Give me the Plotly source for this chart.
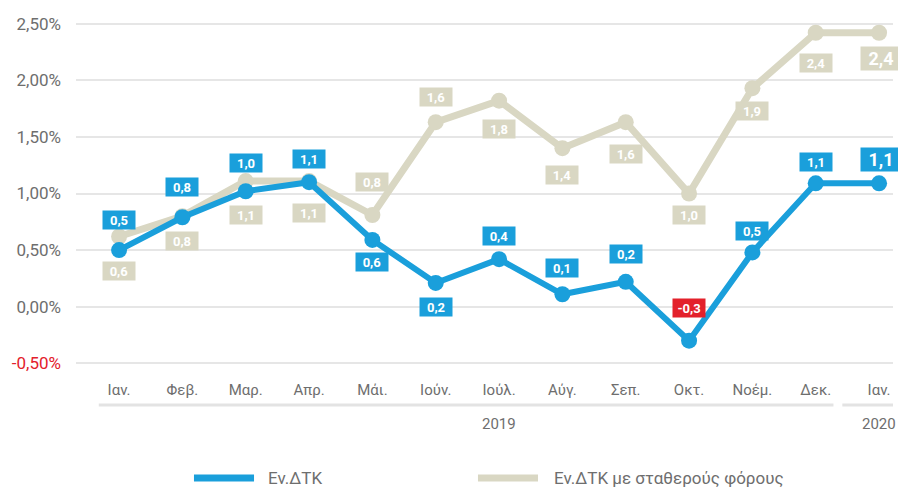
import plotly.graph_objects as go

months = ["Ιαν.", "Φεβ.", "Μαρ.", "Απρ.", "Μάι.", "Ιούν.", "Ιούλ.", "Αύγ.", "Σεπ.", "Οκτ.", "Νοέμ.", "Δεκ.", "Ιαν."]
years = ["2019", "2020"]
cpi = [0.50, 0.79, 1.02, 1.10, 0.59, 0.21, 0.42, 0.11, 0.22, -0.30, 0.48, 1.09, 1.09]
cpi_ct = [0.62, 0.80, 1.11, 1.11, 0.81, 1.63, 1.82, 1.40, 1.63, 1.00, 1.93, 2.42, 2.42]
series_names = ["Εν.ΔΤΚ", "Εν.ΔΤΚ με σταθερούς φόρους"]
y_ticks = [-0.5, 0.0, 0.5, 1.0, 1.5, 2.0, 2.5]

# label offsets in px (style only: negative = above the point)
cpi_off = [-30, -30, -28, -23, 22, 24, -23, -26, -28, -33, -21, -21, -24]
ct_off = [34, 25, 34, 32, -33, -25, 28, 27, 32, 21, 23, 30, 26]

BLUE = "#1a9fdb"
BEIGE = "#d9d7c3"
RED = "#e3212b"
GRAY = "#6e6e6e"
FONT = "Roboto"

x = list(range(len(months)))

fig = go.Figure()
fig.add_trace(go.Scatter(x=x, y=cpi_ct, mode="lines+markers", name=series_names[1],
                         line=dict(color=BEIGE, width=7), marker=dict(size=16, color=BEIGE),
                         hoverinfo="skip"))
fig.add_trace(go.Scatter(x=x, y=cpi, mode="lines+markers", name=series_names[0],
                         line=dict(color=BLUE, width=6), marker=dict(size=16, color=BLUE),
                         hoverinfo="skip"))


def fmt(v):
    return f"{v:.1f}".replace(".", ",")


annotations = []
n = len(x)
for series, offs, col in ((cpi_ct, ct_off, BEIGE), (cpi, cpi_off, BLUE)):
    for i, (v, o) in enumerate(zip(series, offs)):
        last = i == n - 1
        bg = RED if v < 0 else col
        annotations.append(dict(
            x=x[i], y=v, xref="x", yref="y", text=fmt(v), showarrow=False,
            yshift=-o, xshift=2 if last else 0, bgcolor=bg, borderpad=0, yanchor="middle",
            width=40 if last else 32, height=23 if last else 18,
            font=dict(family=FONT, size=18 if last else 13, color="white", weight="bold"),
        ))

# year labels
for xi, yr in ((6, years[0]), (12, years[1])):
    annotations.append(dict(x=xi, y=-0.157, xref="x", yref="paper", text=yr, showarrow=False,
                            yanchor="middle", font=dict(family=FONT, size=15, color=GRAY)))

# legend texts
annotations.append(dict(x=0.2326, y=-0.3105, xref="paper", yref="paper", text=series_names[0],
                        showarrow=False, xanchor="left", yanchor="middle",
                        font=dict(family=FONT, size=17, color=GRAY)))
annotations.append(dict(x=0.5826, y=-0.3105, xref="paper", yref="paper", text=series_names[1],
                        showarrow=False, xanchor="left", yanchor="middle",
                        font=dict(family=FONT, size=17, color=GRAY)))

shapes = [
    dict(type="line", xref="x", yref="paper", x0=-0.32, x1=11.28, y0=-0.1026, y1=-0.1026,
         line=dict(color="#e3e3e3", width=3)),
    dict(type="line", xref="x", yref="paper", x0=11.42, x1=12.22, y0=-0.1026, y1=-0.1026,
         line=dict(color="#e3e3e3", width=3)),
    dict(type="line", xref="paper", yref="paper", x0=0.1444, x1=0.2179, y0=-0.3105, y1=-0.3105,
         line=dict(color=BLUE, width=7)),
    dict(type="line", xref="paper", yref="paper", x0=0.492, x1=0.5655, y0=-0.3105, y1=-0.3105,
         line=dict(color=BEIGE, width=7)),
]

tick_text = []
for t in y_ticks:
    s = f"{t:.2f}".replace(".", ",") + "%"
    if t < 0:
        s = f"<span style='color:{RED}'>{s}</span>"
    tick_text.append(s)

fig.update_layout(
    width=898, height=487,
    margin=dict(l=76, r=5, t=18, b=118),
    plot_bgcolor="white", paper_bgcolor="white",
    showlegend=False,
    annotations=annotations,
    shapes=shapes,
    xaxis=dict(range=[-0.68, 12.22], tickmode="array", tickvals=x, ticktext=months,
               showgrid=False, zeroline=False, showline=False, ticks="",
               tickfont=dict(family=FONT, size=15, color=GRAY), ticklabelstandoff=10),
    yaxis=dict(range=[-0.55, 2.55], tickmode="array", tickvals=y_ticks, ticktext=tick_text,
               showgrid=True, gridcolor="#e6e6e6", gridwidth=2, zeroline=False, showline=False,
               ticks="", tickfont=dict(family=FONT, size=17, color=GRAY), ticklabelstandoff=14),
)

fig.write_html("out.html", config={"displayModeBar": False},
               post_script="document.body.style.margin='0';document.body.style.overflow='hidden';")
